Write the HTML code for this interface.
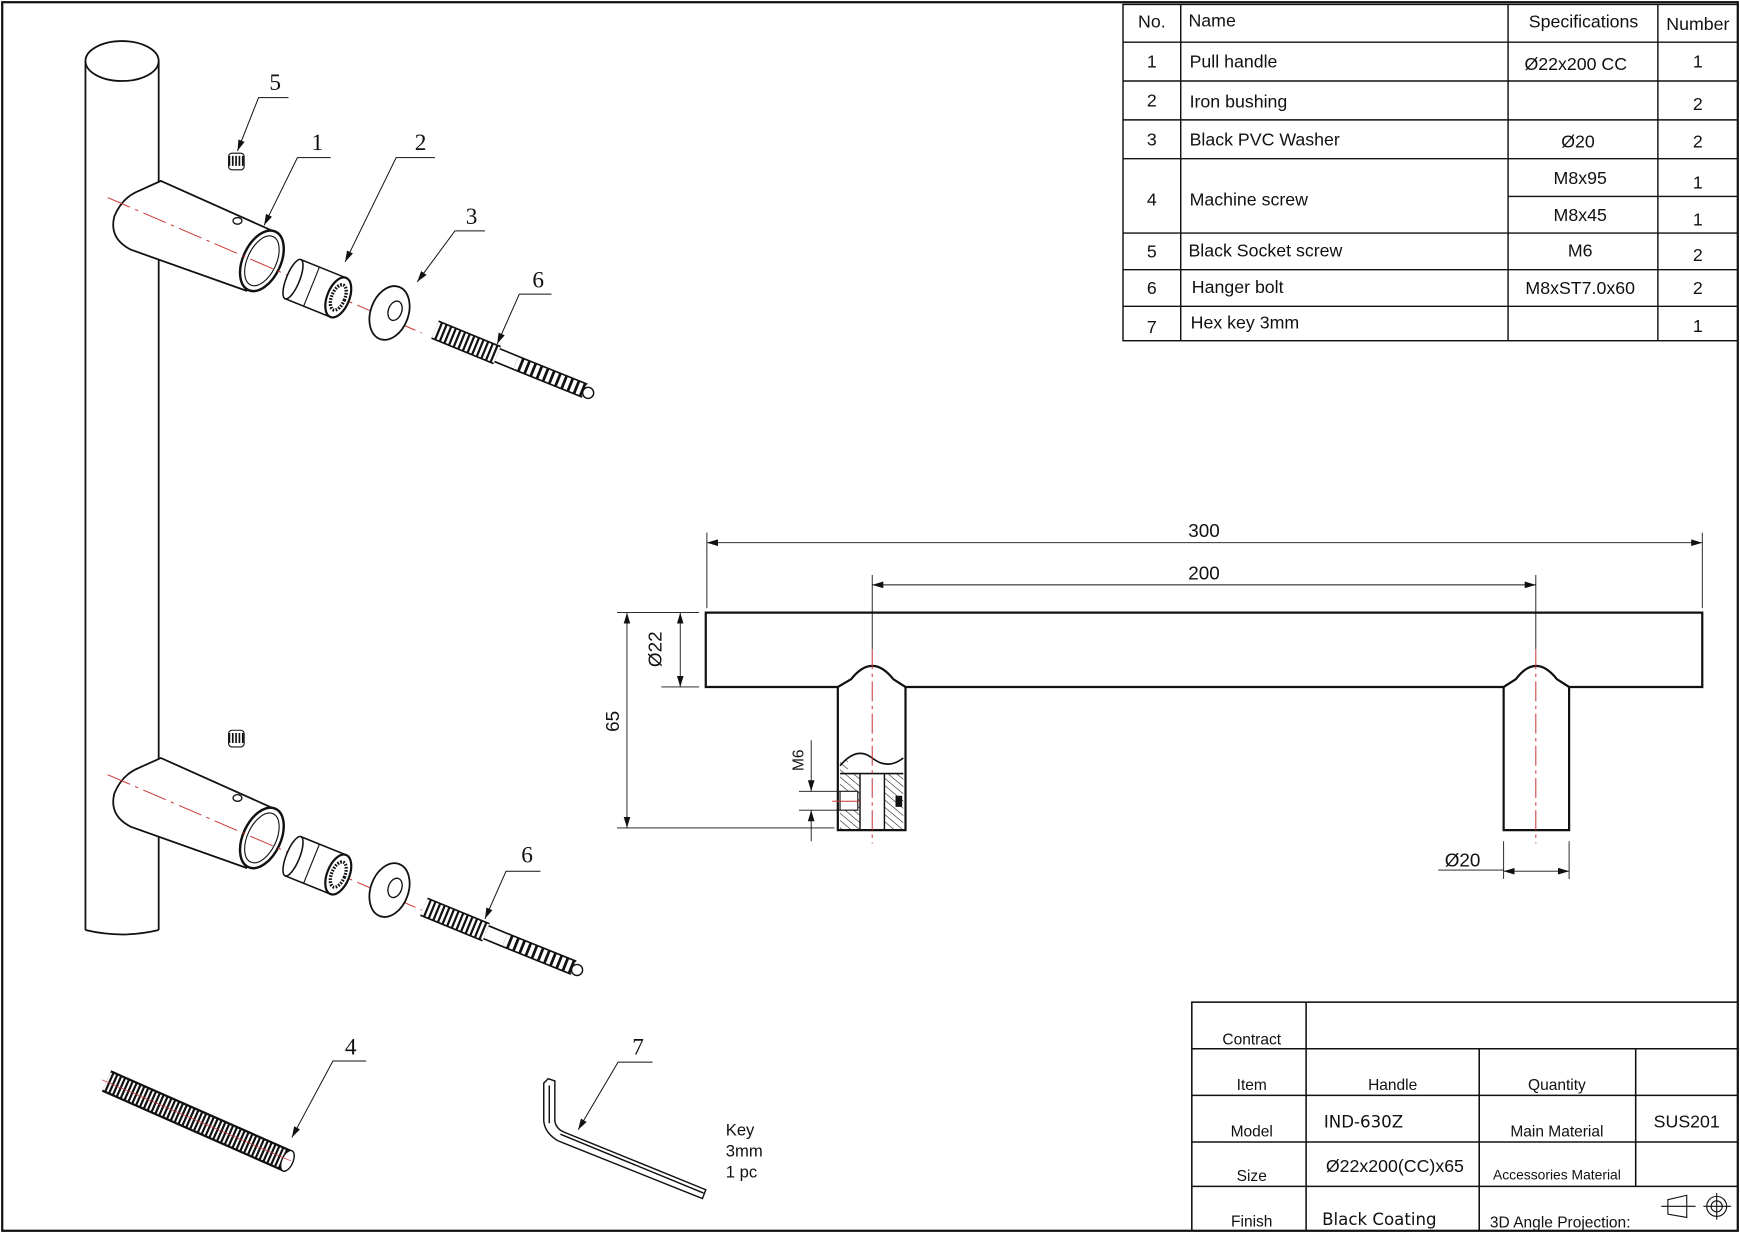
<!DOCTYPE html>
<html><head><meta charset="utf-8"><style>
html,body{margin:0;padding:0;background:#fff;}
svg{display:block;}
text{font-family:"Liberation Sans",sans-serif;fill:#111;}
.s{font-family:"Liberation Serif",serif;}
</style></head><body>
<svg width="1740" height="1233" viewBox="0 0 1568 1111" preserveAspectRatio="none" xmlns="http://www.w3.org/2000/svg">
<defs>
<pattern id="hat" width="5" height="5" patternUnits="userSpaceOnUse" patternTransform="rotate(-50)">
<line x1="0" y1="0" x2="0" y2="5" stroke="#111" stroke-width="1"/></pattern>
<marker id="ar" markerWidth="10" markerHeight="6" refX="10" refY="3" orient="auto" markerUnits="userSpaceOnUse"><path d="M0,0 L10,3 L0,6 z" fill="#111"/></marker>
<marker id="al" markerWidth="10" markerHeight="6" refX="0" refY="3" orient="auto" markerUnits="userSpaceOnUse"><path d="M10,0 L0,3 L10,6 z" fill="#111"/></marker>
<g id="joint">
 <path d="M145,163 L250,210 L222,262 L118,225 Q98,215 103,195 Q110,178 125,172 Z" fill="#fff" stroke="#111" stroke-width="1.6"/>
 <ellipse cx="236" cy="235" rx="17" ry="29" transform="rotate(25 236 235)" fill="#fff" stroke="#111" stroke-width="2.2"/>
 <ellipse cx="236" cy="235" rx="13" ry="24" transform="rotate(25 236 235)" fill="none" stroke="#111" stroke-width="1"/>
 <ellipse cx="214" cy="199" rx="4" ry="3" fill="none" stroke="#111" stroke-width="1.2"/>
 <line x1="97" y1="178" x2="380" y2="300" stroke="#c33" stroke-width="0.9" stroke-dasharray="22,5,3,5"/>
 <!-- bushing -->
 <g transform="rotate(22 290 262)">
  <rect x="262" y="243" width="44" height="38" fill="#fff" stroke="#111" stroke-width="1.4"/>
  <ellipse cx="262" cy="262" rx="6" ry="19" fill="#fff" stroke="#111" stroke-width="1.4"/>
  <line x1="280" y1="243" x2="280" y2="281" stroke="#111" stroke-width="1"/>
  <ellipse cx="306" cy="262" rx="10" ry="19" fill="#fff" stroke="#111" stroke-width="2"/>
  <ellipse cx="306" cy="262" rx="6" ry="12" fill="none" stroke="#111" stroke-width="3" stroke-dasharray="1.5,1.2"/>
 </g>
 <ellipse cx="351" cy="282" rx="17" ry="25" transform="rotate(20 351 282)" fill="#fff" stroke="#111" stroke-width="1.6"/>
 <ellipse cx="356" cy="280" rx="6" ry="9" transform="rotate(20 356 280)" fill="#fff" stroke="#111" stroke-width="1.2"/>
 <rect x="206" y="138" width="14" height="15" rx="3" fill="#fff" stroke="#111" stroke-width="1"/>
 <line x1="206" y1="145" x2="220" y2="145" stroke="#111" stroke-width="9" stroke-dasharray="1.5,1.5"/>
</g>
<g id="bolt">
 <line x1="392" y1="297" x2="448" y2="320" stroke="#111" stroke-width="18"/>
 <line x1="392" y1="297" x2="448" y2="320" stroke="#fff" stroke-width="15" stroke-dasharray="2.5,2"/>
 <line x1="448" y1="320" x2="465" y2="327" stroke="#111" stroke-width="14"/>
 <line x1="448" y1="320" x2="465" y2="327" stroke="#fff" stroke-width="11"/>
 <line x1="465" y1="327" x2="527" y2="352" stroke="#111" stroke-width="14"/>
 <line x1="465" y1="327" x2="527" y2="352" stroke="#fff" stroke-width="11" stroke-dasharray="3.5,2.5"/>
 <circle cx="530" cy="354" r="5" fill="#fff" stroke="#111" stroke-width="1.3"/>
</g>
</defs>

<rect x="2" y="2" width="1564" height="1107" fill="none" stroke="#111" stroke-width="2"/>

<g stroke="#111" stroke-width="1.3" fill="none">
<rect x="1012" y="4" width="554" height="303"/>
<line x1="1064" y1="4" x2="1064" y2="307"/><line x1="1359" y1="4" x2="1359" y2="307"/><line x1="1494" y1="4" x2="1494" y2="307"/>
<line x1="1012" y1="38" x2="1566" y2="38"/><line x1="1012" y1="73" x2="1566" y2="73"/><line x1="1012" y1="108" x2="1566" y2="108"/><line x1="1012" y1="143" x2="1566" y2="143"/>
<line x1="1359" y1="177" x2="1566" y2="177"/>
<line x1="1012" y1="210" x2="1566" y2="210"/><line x1="1012" y1="243" x2="1566" y2="243"/><line x1="1012" y1="276" x2="1566" y2="276"/>
</g>
<g font-size="16">
<text x="1038" y="25" text-anchor="middle">No.</text><text x="1071" y="24">Name</text><text x="1427" y="25" text-anchor="middle">Specifications</text><text x="1530" y="27" text-anchor="middle">Number</text>
<text x="1038" y="61" text-anchor="middle">1</text><text x="1072" y="61">Pull handle</text><text x="1420" y="63" text-anchor="middle">Ø22x200 CC</text><text x="1530" y="61" text-anchor="middle">1</text>
<text x="1038" y="96" text-anchor="middle">2</text><text x="1072" y="97">Iron bushing</text><text x="1530" y="99" text-anchor="middle">2</text>
<text x="1038" y="131" text-anchor="middle">3</text><text x="1072" y="131">Black PVC Washer</text><text x="1422" y="133" text-anchor="middle">Ø20</text><text x="1530" y="133" text-anchor="middle">2</text>
<text x="1038" y="185" text-anchor="middle">4</text><text x="1072" y="185">Machine screw</text><text x="1424" y="166" text-anchor="middle">M8x95</text><text x="1424" y="199" text-anchor="middle">M8x45</text><text x="1530" y="170" text-anchor="middle">1</text><text x="1530" y="203" text-anchor="middle">1</text>
<text x="1038" y="232" text-anchor="middle">5</text><text x="1071" y="231">Black Socket screw</text><text x="1424" y="231" text-anchor="middle">M6</text><text x="1530" y="235" text-anchor="middle">2</text>
<text x="1038" y="265" text-anchor="middle">6</text><text x="1074" y="264">Hanger bolt</text><text x="1424" y="265" text-anchor="middle">M8xST7.0x60</text><text x="1530" y="265" text-anchor="middle">2</text>
<text x="1038" y="300" text-anchor="middle">7</text><text x="1073" y="296">Hex key  3mm</text><text x="1530" y="299" text-anchor="middle">1</text>
</g>

<g stroke="#111" stroke-width="1.4" fill="none">
<rect x="1074" y="903" width="492" height="206"/>
<line x1="1177" y1="903" x2="1177" y2="1109"/>
<line x1="1333" y1="945" x2="1333" y2="1109"/><line x1="1474" y1="945" x2="1474" y2="1069"/>
<line x1="1074" y1="945" x2="1566" y2="945"/><line x1="1074" y1="987" x2="1566" y2="987"/><line x1="1074" y1="1029" x2="1566" y2="1029"/><line x1="1074" y1="1069" x2="1566" y2="1069"/>
</g>
<g font-size="14">
<text x="1128" y="941" text-anchor="middle">Contract</text>
<text x="1128" y="982" text-anchor="middle">Item</text><text x="1255" y="982" text-anchor="middle">Handle</text><text x="1403" y="982" text-anchor="middle">Quantity</text>
<text x="1128" y="1024" text-anchor="middle">Model</text><text x="1193" y="1016" font-size="15" style="font-family:'DejaVu Sans',sans-serif">IND-630Z</text><text x="1403" y="1024" text-anchor="middle">Main Material</text><text x="1520" y="1016" text-anchor="middle" font-size="16">SUS201</text>
<text x="1128" y="1064" text-anchor="middle">Size</text><text x="1257" y="1056" text-anchor="middle" font-size="16">Ø22x200(CC)x65</text><text x="1403" y="1063" text-anchor="middle" font-size="12.5">Accessories Material</text>
<text x="1128" y="1105" text-anchor="middle">Finish</text><text x="1243" y="1104" text-anchor="middle" font-size="15" style="font-family:'DejaVu Sans',sans-serif">Black Coating</text><text x="1406" y="1106" text-anchor="middle">3D Angle Projection:</text>
</g>
<g stroke="#111" stroke-width="1" fill="none">
<path d="M1503,1081 L1520,1077 L1520,1097 L1503,1094 Z"/><line x1="1497" y1="1087" x2="1528" y2="1087"/>
<circle cx="1547" cy="1087" r="9"/><circle cx="1547" cy="1087" r="5"/><line x1="1535" y1="1087" x2="1560" y2="1087"/><line x1="1547" y1="1075" x2="1547" y2="1099"/>
</g>

<g stroke="#111" fill="none">
<line x1="637" y1="480" x2="637" y2="548" stroke-width="0.8"/><line x1="1534" y1="480" x2="1534" y2="548" stroke-width="0.8"/>
<line x1="637" y1="489" x2="1534" y2="489" stroke-width="0.8" marker-start="url(#al)" marker-end="url(#ar)"/>
<line x1="786" y1="518" x2="786" y2="585" stroke-width="0.8"/><line x1="1384" y1="518" x2="1384" y2="585" stroke-width="0.8"/>
<line x1="786" y1="527" x2="1384" y2="527" stroke-width="0.8" marker-start="url(#al)" marker-end="url(#ar)"/>
<path d="M636,552 L1534,552 L1534,619 L1414,619 L1403,612 Q1384,588 1366,612 L1355,619 L816,619 L805,612 Q786,588 767,612 L755,619 L636,619 Z" stroke-width="2"/>
<path d="M755,619 L755,748 L816,748 L816,619" stroke-width="2"/>
<path d="M1355,619 L1355,748 L1414,748 L1414,619" stroke-width="2"/>
<path d="M757,690 Q772,672 786,683 Q800,694 814,683" stroke-width="1.5"/>
<rect x="757" y="685" width="7" height="63" fill="url(#hat)" stroke="none"/>
<rect x="764" y="697" width="11" height="51" fill="url(#hat)" stroke="none"/>
<rect x="797" y="697" width="17" height="51" fill="url(#hat)" stroke="none"/>
<rect x="757" y="713" width="16" height="17" fill="#fff" stroke-width="1"/>
<line x1="757" y1="697" x2="814" y2="697" stroke-width="1.5"/>
<line x1="775" y1="697" x2="775" y2="748" stroke-width="1.3"/><line x1="797" y1="697" x2="797" y2="748" stroke-width="1.3"/>
<rect x="807" y="717" width="6" height="10" fill="#111" stroke="none"/>
<line x1="565" y1="552" x2="565" y2="746" stroke-width="0.8" marker-start="url(#al)" marker-end="url(#ar)"/>
<line x1="556" y1="552" x2="630" y2="552" stroke-width="0.8"/><line x1="556" y1="746" x2="752" y2="746" stroke-width="0.8"/>
<line x1="613" y1="552" x2="613" y2="619" stroke-width="0.8" marker-start="url(#al)" marker-end="url(#ar)"/>
<line x1="596" y1="619" x2="630" y2="619" stroke-width="0.8"/>
<line x1="731" y1="667" x2="731" y2="713" stroke-width="0.8" marker-end="url(#ar)"/>
<line x1="731" y1="730" x2="731" y2="758" stroke-width="0.8" marker-start="url(#al)"/>
<line x1="720" y1="713" x2="757" y2="713" stroke-width="0.8"/><line x1="720" y1="730" x2="757" y2="730" stroke-width="0.8"/>
<line x1="1355" y1="758" x2="1355" y2="792" stroke-width="0.8"/><line x1="1414" y1="758" x2="1414" y2="792" stroke-width="0.8"/>
<line x1="1296" y1="784" x2="1355" y2="784" stroke-width="0.8"/>
<line x1="1355" y1="785" x2="1414" y2="785" stroke-width="0.8" marker-start="url(#al)" marker-end="url(#ar)"/>
</g>
<g stroke="#c33" stroke-width="0.9" stroke-dasharray="18,4,3,4">
<line x1="786" y1="585" x2="786" y2="760"/><line x1="1384" y1="585" x2="1384" y2="760"/>
</g>
<line x1="750" y1="722" x2="775" y2="722" stroke="#c33" stroke-width="0.9"/>
<g font-size="17" style="font-family:'DejaVu Sans',sans-serif;font-weight:200">
<text x="1085" y="484" text-anchor="middle" fill="#333">300</text>
<text x="1085" y="522" text-anchor="middle" fill="#333">200</text>
<text transform="translate(558,650) rotate(-90)" text-anchor="middle" fill="#333">65</text>
<text transform="translate(596,585) rotate(-90)" text-anchor="middle" fill="#333">Ø22</text>
<text transform="translate(724,685) rotate(-90)" text-anchor="middle" font-size="14" fill="#333">M6</text>
<text x="1318" y="781" text-anchor="middle" fill="#333">Ø20</text>
</g>

<g stroke="#111" fill="none" stroke-width="1.6">
<ellipse cx="110" cy="55" rx="33" ry="18" fill="#fff"/>
<line x1="77" y1="55" x2="77" y2="838"/>
<line x1="143" y1="55" x2="143" y2="838"/>
<path d="M77,838 Q110,846 143,838"/>
</g>
<use href="#joint"/>
<use href="#bolt"/>
<use href="#joint" transform="translate(0,520)"/>
<use href="#bolt" transform="translate(-10,520)"/>

<line x1="96" y1="974" x2="259" y2="1046" stroke="#111" stroke-width="21"/>
<line x1="96" y1="974" x2="259" y2="1046" stroke="#fff" stroke-width="17" stroke-dasharray="1.8,2"/>
<ellipse cx="259" cy="1046" rx="5" ry="10" transform="rotate(24 259 1046)" fill="#fff" stroke="#111" stroke-width="1.3"/>
<line x1="92" y1="973" x2="262" y2="1046" stroke="#c33" stroke-width="0.6"/>

<g stroke="#111" stroke-width="1.3" fill="#fff">
<path d="M490,976 L494,972 L500,974 L500,1010 Q501,1017 508,1020 L636,1072 L633,1080 L503,1028 Q491,1021 490,1010 Z"/>
<line x1="495" y1="978" x2="495" y2="1012" fill="none"/>
<line x1="505" y1="1022" x2="634" y2="1075" fill="none"/>
</g>
<g font-size="15"><text x="654" y="1023">Key</text><text x="654" y="1042">3mm</text><text x="654" y="1061">1 pc</text></g>

<g stroke="#111" stroke-width="0.9" fill="none">
<path d="M260,88 L233,88 L214,136" marker-end="url(#ar)"/>
<path d="M298,142 L268,142 L238,203" marker-end="url(#ar)"/>
<path d="M392,142 L357,142 L311,236" marker-end="url(#ar)"/>
<path d="M437,208 L410,208 L376,254" marker-end="url(#ar)"/>
<path d="M497,265 L468,265 L448,310" marker-end="url(#ar)"/>
<path d="M487,785 L456,785 L437,828" marker-end="url(#ar)"/>
<path d="M330,956 L300,956 L263,1025" marker-end="url(#ar)"/>
<path d="M588,957 L557,957 L521,1018" marker-end="url(#ar)"/>
</g>
<g font-size="21">
<text x="248" y="81" text-anchor="middle" class="s">5</text>
<text x="286" y="135" text-anchor="middle" class="s">1</text>
<text x="379" y="135" text-anchor="middle" class="s">2</text>
<text x="425" y="202" text-anchor="middle" class="s">3</text>
<text x="485" y="259" text-anchor="middle" class="s">6</text>
<text x="475" y="777" text-anchor="middle" class="s">6</text>
<text x="316" y="950" text-anchor="middle" class="s">4</text>
<text x="575" y="950" text-anchor="middle" class="s">7</text>
</g>
</svg>
</body></html>
